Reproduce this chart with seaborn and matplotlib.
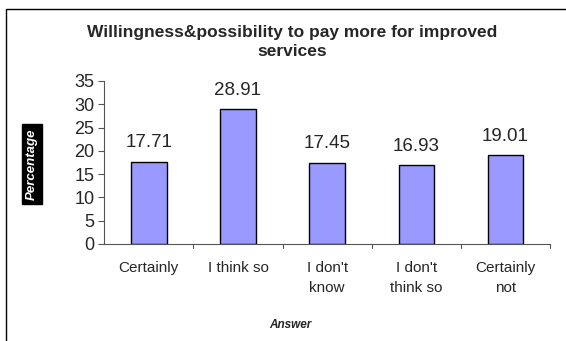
import matplotlib
matplotlib.use("Agg")
import matplotlib.pyplot as plt
import seaborn as sns
import pandas as pd
from matplotlib.patches import Rectangle

categories = ["Certainly", "I think so", "I don't\nknow", "I don't\nthink so", "Certainly\nnot"]
values = [17.71, 28.91, 17.45, 16.93, 19.01]
yticks = [0, 5, 10, 15, 20, 25, 30, 35]

sns.set_theme(style="white")
plt.rcParams['font.family'] = ['Liberation Sans', 'DejaVu Sans']

df = pd.DataFrame({"Answer": categories, "Percentage": values})

fig = plt.figure(figsize=(5.66, 3.41), dpi=100)
ax = fig.add_axes([0.184, 0.2845, 0.788, 0.478])
sns.barplot(data=df, x="Answer", y="Percentage", ax=ax, color="#9999FF",
            saturation=1, width=0.4, edgecolor="black", linewidth=1.0)

ax.set_ylim(0, 35)
ax.set_xlim(-0.5, len(categories) - 0.5)
ax.set_yticks(yticks)
ax.set_yticklabels([str(t) for t in yticks], fontsize=13)
ax.tick_params(axis='y', direction='out', length=4, width=0.8, color='#555555', left=True, pad=3)
ax.set_xticks(range(len(categories)))
ax.set_xticklabels(categories, fontsize=11, linespacing=1.55)
ax.tick_params(axis='x', length=0, pad=12)
# tick marks between categories
for xb in [i + 0.5 for i in range(len(categories))]:
    ax.plot([xb, xb], [0, -0.9], color='#555555', lw=0.8, clip_on=False)

for s in ["top", "right"]:
    ax.spines[s].set_visible(False)
for s in ["left", "bottom"]:
    ax.spines[s].set_color('#555555')
    ax.spines[s].set_linewidth(0.8)

for i, v in enumerate(values):
    ax.text(i, v + 2.2, f"{v:.2f}", ha="center", va="bottom", fontsize=13.5)

ax.set_xlabel("")
ax.set_ylabel("")

fig.text(0.516, 0.876, "Willingness&possibility to pay more for improved\nservices",
         ha="center", va="center", fontsize=12.5, fontweight="bold", linespacing=1.3)
fig.text(0.513, 0.047, "Answer", ha="center", va="center", fontsize=8.5,
         fontweight="bold", fontstyle="italic")
fig.text(0.057, 0.519, "Percentage", ha="center", va="center", rotation=90, fontsize=9.5,
         fontweight="bold", fontstyle="italic", color="white",
         bbox=dict(facecolor="black", edgecolor="black", pad=3))

fig.add_artist(Rectangle((6 / 566, -0.05), 1.0, 1 - 9 / 341 + 0.05, transform=fig.transFigure,
                         fill=False, edgecolor="black", linewidth=1.0))

fig.savefig("out.png", dpi=100)
